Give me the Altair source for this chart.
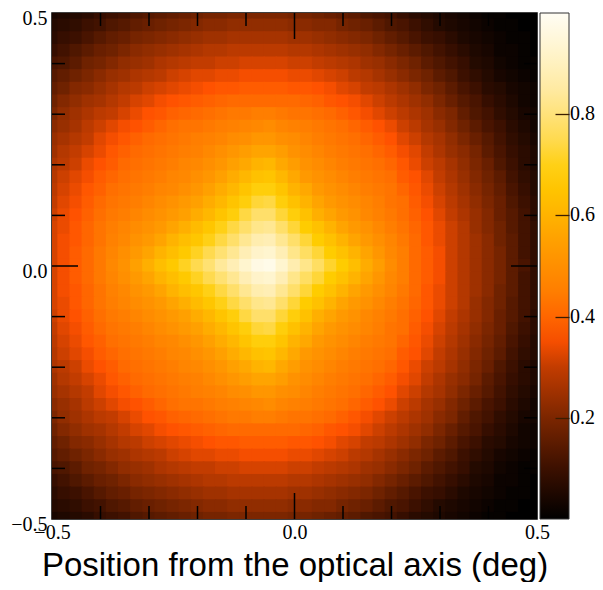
import altair as alt
import pandas as pd

# ---- data (intensity in percent) ----
# columns: x = -0.5 ... 0.5 in steps of 0.025 ; rows: y = 0.5 (top) ... -0.5 (bottom)
x_centers = [round(-0.5 + 0.025 * k, 3) for k in range(41)]
y_centers = [round(0.5 - 0.025 * j, 3) for j in range(41)]

r050 = [4, 5, 6, 7, 9, 10, 11, 13, 14, 15, 16, 17, 18, 19, 19, 20, 20, 20, 20, 20, 19, 19, 18, 17, 16, 15, 13, 12, 11, 9, 7, 6, 5, 4, 3, 2, 1, 1, 0, 0, 0]
r0475 = [6, 7, 8, 10, 11, 13, 14, 16, 17, 18, 19, 20, 21, 22, 22, 23, 23, 23, 23, 23, 22, 22, 21, 21, 19, 18, 17, 15, 13, 12, 10, 8, 6, 5, 4, 3, 2, 1, 1, 0, 0]
r045 = [7, 9, 10, 12, 14, 16, 17, 19, 20, 21, 22, 23, 24, 25, 25, 26, 26, 26, 26, 26, 25, 25, 24, 23, 22, 21, 20, 18, 16, 14, 12, 10, 9, 7, 5, 4, 3, 2, 1, 1, 0]
r0425 = [9, 11, 13, 15, 17, 18, 20, 22, 23, 24, 25, 26, 27, 28, 28, 29, 29, 29, 29, 29, 28, 28, 27, 26, 25, 24, 23, 21, 19, 17, 15, 13, 11, 9, 7, 5, 4, 2, 2, 1, 0]
r040 = [12, 13, 15, 18, 19, 21, 23, 24, 25, 27, 28, 29, 30, 30, 31, 31, 32, 32, 32, 32, 31, 31, 30, 29, 28, 27, 25, 24, 22, 20, 18, 15, 13, 11, 9, 6, 5, 3, 2, 1, 1]
r0375 = [14, 16, 18, 20, 22, 24, 25, 27, 28, 29, 31, 32, 33, 33, 34, 34, 35, 35, 35, 35, 34, 34, 33, 32, 31, 29, 28, 26, 24, 22, 20, 18, 15, 13, 10, 8, 6, 4, 3, 2, 1]
r035 = [16, 18, 21, 22, 24, 26, 28, 29, 31, 32, 33, 34, 35, 36, 37, 37, 38, 38, 38, 38, 37, 37, 36, 35, 33, 32, 30, 29, 27, 25, 23, 20, 18, 15, 12, 10, 7, 6, 4, 3, 2]
r0325 = [18, 21, 23, 25, 26, 28, 30, 32, 33, 35, 36, 37, 38, 39, 40, 41, 41, 41, 41, 41, 41, 40, 39, 37, 36, 35, 33, 31, 29, 27, 25, 23, 20, 17, 14, 12, 9, 7, 5, 3, 2]
r030 = [20, 23, 25, 27, 29, 30, 32, 34, 36, 37, 39, 40, 41, 42, 43, 44, 44, 45, 45, 44, 43, 43, 42, 41, 39, 37, 35, 33, 31, 29, 27, 25, 22, 20, 16, 13, 11, 8, 6, 4, 3]
r0275 = [22, 24, 26, 29, 31, 33, 35, 36, 38, 40, 42, 43, 43, 44, 45, 46, 47, 48, 49, 47, 46, 45, 44, 43, 42, 40, 38, 36, 34, 31, 29, 26, 24, 21, 18, 15, 12, 10, 7, 5, 3]
r025 = [24, 26, 28, 30, 33, 35, 37, 39, 41, 42, 43, 44, 45, 46, 47, 49, 50, 52, 52, 50, 49, 47, 45, 44, 43, 42, 40, 38, 36, 33, 31, 28, 26, 23, 20, 17, 14, 11, 8, 6, 4]
r0225 = [25, 28, 30, 32, 34, 37, 39, 41, 42, 43, 44, 45, 46, 48, 50, 52, 54, 56, 56, 54, 51, 49, 47, 45, 44, 43, 42, 40, 38, 35, 33, 30, 27, 24, 22, 19, 15, 12, 9, 7, 5]
r020 = [27, 29, 31, 34, 36, 38, 41, 42, 43, 44, 45, 47, 48, 50, 52, 55, 57, 60, 61, 57, 54, 51, 49, 47, 45, 44, 43, 42, 40, 37, 34, 31, 29, 26, 23, 20, 17, 13, 10, 7, 5]
r0175 = [28, 31, 33, 35, 38, 40, 42, 43, 44, 45, 47, 48, 50, 52, 55, 58, 61, 64, 65, 61, 57, 53, 51, 49, 47, 45, 44, 43, 42, 38, 36, 33, 30, 27, 24, 21, 18, 15, 11, 8, 6]
r015 = [29, 32, 34, 37, 39, 42, 43, 44, 45, 47, 48, 50, 52, 55, 58, 61, 65, 69, 69, 65, 60, 57, 53, 51, 49, 47, 45, 44, 43, 40, 37, 34, 31, 28, 25, 22, 19, 16, 12, 9, 6]
r0125 = [30, 33, 35, 38, 41, 43, 44, 45, 47, 49, 51, 53, 55, 58, 61, 65, 69, 73, 74, 69, 64, 60, 56, 53, 51, 49, 47, 45, 43, 42, 38, 35, 32, 29, 26, 23, 20, 17, 13, 10, 7]
r010 = [31, 34, 36, 39, 42, 44, 45, 47, 49, 51, 53, 55, 58, 61, 65, 69, 74, 78, 78, 73, 69, 64, 59, 56, 53, 51, 48, 46, 44, 42, 39, 36, 33, 30, 27, 24, 21, 17, 14, 11, 7]
r0075 = [32, 34, 37, 40, 43, 45, 47, 49, 51, 53, 56, 59, 62, 66, 70, 74, 78, 82, 83, 78, 73, 68, 64, 60, 56, 53, 51, 48, 45, 43, 40, 37, 34, 31, 28, 24, 21, 18, 14, 11, 8]
r005 = [32, 35, 37, 40, 43, 46, 48, 51, 53, 56, 60, 63, 66, 70, 74, 78, 83, 87, 88, 83, 78, 73, 68, 64, 60, 56, 53, 50, 47, 44, 41, 37, 34, 31, 28, 25, 22, 18, 15, 11, 8]
r0025 = [32, 35, 38, 41, 44, 47, 50, 53, 56, 60, 63, 67, 71, 75, 79, 83, 88, 92, 93, 88, 82, 77, 73, 68, 64, 60, 56, 52, 48, 45, 41, 38, 35, 31, 28, 25, 22, 19, 15, 11, 8]
r000 = [32, 35, 38, 41, 44, 48, 51, 55, 59, 63, 67, 71, 75, 79, 84, 88, 93, 97, 98, 93, 87, 82, 77, 72, 68, 63, 58, 54, 49, 45, 41, 38, 35, 31, 28, 25, 22, 19, 15, 12, 8]

upper_rows = [r050, r0475, r045, r0425, r040, r0375, r035, r0325, r030, r0275, r025,
              r0225, r020, r0175, r015, r0125, r010, r0075, r005, r0025]
# the field is mirror-symmetric about y = 0 in the reference
intensity_pct = upper_rows + [r000] + upper_rows[::-1]

minor_ticks = [-0.4, -0.3, -0.2, -0.1, 0.1, 0.2, 0.3, 0.4]
major_ticks = [0.0]
axis_labels = [-0.5, 0.0, 0.5]
colorbar_labels = [0.2, 0.4, 0.6, 0.8]

cmap_stops = [0.0, 0.10, 0.20, 0.30, 0.36, 0.45, 0.55, 0.62, 0.68, 0.76, 0.86, 1.0]
cmap_colors = ["#000000", "#3c1000", "#7c2600", "#c23c00", "#ff5200", "#ff7e00",
               "#ffa000", "#ffbb00", "#ffcc00", "#ffdc5a", "#ffecaa", "#fffdf4"]

# ---- layout ----
W, H = 485, 506
HALF = 0.014
CB_OFFSET, CB_THICK, CB_TICK = 3, 29, 14
SERIF = "Liberation Serif"
SANS = "Liberation Sans"

records = []
for j, yv in enumerate(y_centers):
    for i, xv in enumerate(x_centers):
        records.append({"x": xv, "y": yv, "v": intensity_pct[j][i] / 100.0})
grid = pd.DataFrame(records)

cscale = alt.Scale(domain=cmap_stops, range=cmap_colors, interpolate="rgb")
TITLE = "Position from the optical axis (deg)"

heat = (
    alt.Chart(grid)
    .transform_calculate(x0=f"datum.x - {HALF}", x1=f"datum.x + {HALF}",
                         y0=f"datum.y - {HALF}", y1=f"datum.y + {HALF}")
    .mark_rect(clip=True)
    .encode(
        x=alt.X("x0:Q", scale=alt.Scale(domain=[-0.5, 0.5], nice=False, zero=False),
                axis=alt.Axis(values=axis_labels, format=".1f", title=TITLE,
                              labelFont=SERIF, labelFontSize=20, labelColor="black", labelPadding=3,
                              labelFlush=False, ticks=False, domain=False, grid=False,
                              titleFont=SANS, titleFontSize=33, titleFontWeight="normal", titleColor="black",
                              titleY=56, titleBaseline="alphabetic")),
        x2="x1:Q",
        y=alt.Y("y0:Q", scale=alt.Scale(domain=[-0.5, 0.5], nice=False, zero=False),
                axis=alt.Axis(values=axis_labels, format=".1f", title="",
                              labelFont=SERIF, labelFontSize=20, labelColor="black", labelPadding=5,
                              labelOffset=5, labelFlush=False, ticks=False, domain=False, grid=False)),
        y2="y1:Q",
        color=alt.Color("v:Q", scale=cscale,
                        legend=alt.Legend(title=None, values=colorbar_labels, format=".1f",
                                          type="gradient", orient="none", direction="vertical",
                                          legendX=W + CB_OFFSET, legendY=0,
                                          gradientLength=H, gradientThickness=CB_THICK,
                                          gradientStrokeColor="#333333", gradientStrokeWidth=1,
                                          labelFont=SERIF, labelFontSize=20, labelColor="black",
                                          labelOffset=1, padding=0)),
    )
)


def tick_layer(positions, side, length):
    df = pd.DataFrame({"p": positions})
    base = alt.Chart(df).mark_rule(color="black", strokeWidth=1.5)
    if side in ("bottom", "top"):
        enc = {"x": alt.X("p:Q", title=TITLE)}
        if side == "bottom":
            enc.update(y=alt.value(H), y2=alt.value(H - length))
        else:
            enc.update(y=alt.value(0), y2=alt.value(length))
    else:
        enc = {"y": alt.Y("p:Q", title="")}
        if side == "left":
            enc.update(x=alt.value(0), x2=alt.value(length))
        else:
            enc.update(x=alt.value(W), x2=alt.value(W - length))
    return base.encode(**enc)


layers = [heat]
for side in ("bottom", "top", "left", "right"):
    layers.append(tick_layer(minor_ticks, side, 13))
    layers.append(tick_layer(major_ticks, side, 26))
main = alt.layer(*layers)

# inward ticks on the colour bar: an extra right-hand axis (value 0..1) drawn above the legend
cb_axis = (
    alt.Chart(pd.DataFrame({"c": colorbar_labels}))
    .mark_rule(opacity=0)
    .encode(y=alt.Y("c:Q", scale=alt.Scale(domain=[0, 1], nice=False, zero=False),
                    axis=alt.Axis(orient="right", values=colorbar_labels, offset=CB_OFFSET + CB_THICK - CB_TICK,
                                  tickSize=CB_TICK, tickColor="#3a1c00", tickWidth=1.3,
                                  labels=False, domain=False, grid=False, title="", zindex=1)))
)

# whole page: 8px margin + svg of 587 x 574 fits the 603 x 590 window exactly
chart = (
    alt.layer(main, cb_axis)
    .resolve_scale(y="independent")
    .properties(width=W, height=H, autosize=alt.AutoSizeParams(type="none"),
                padding={"left": 44, "top": 5, "right": 58, "bottom": 63}, background="white")
    .configure_view(stroke="black", strokeWidth=1.5)
)

chart.save("out.html", embed_options={"renderer": "svg", "actions": False})
